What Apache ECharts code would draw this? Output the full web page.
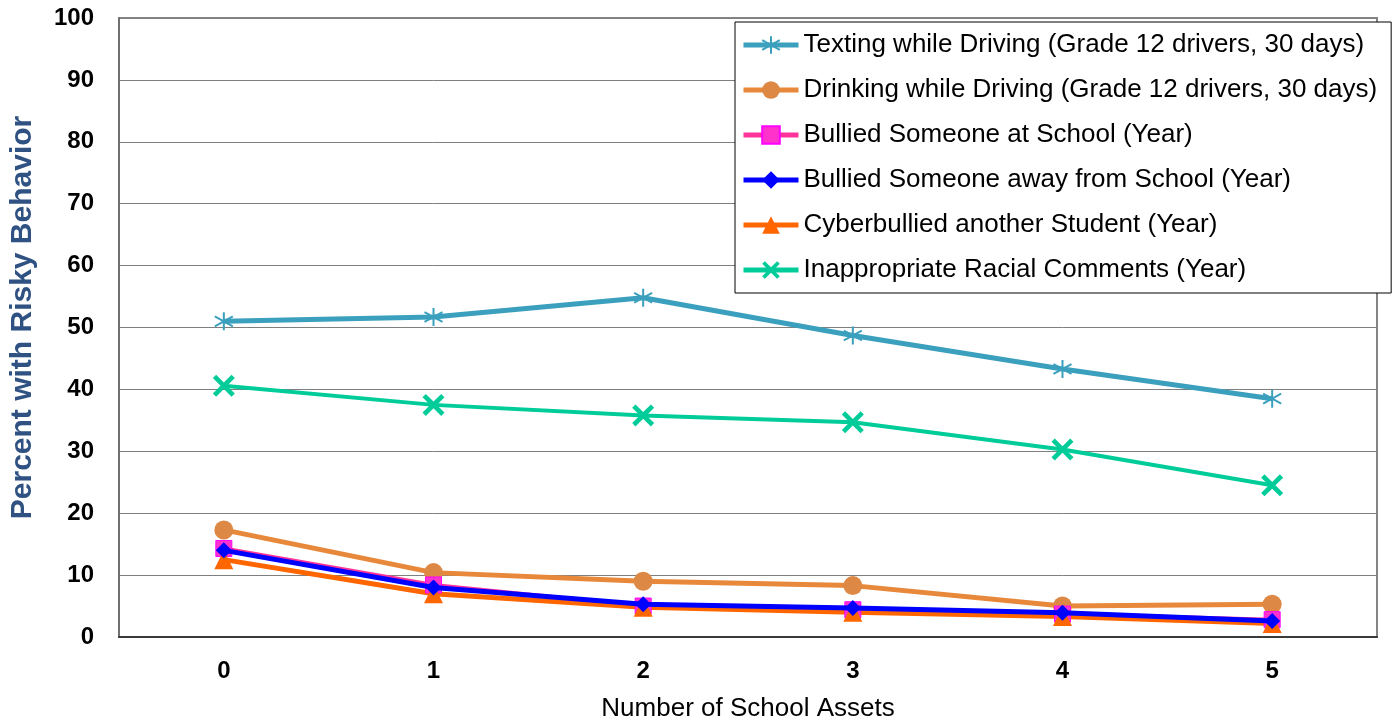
<!DOCTYPE html>
<html><head><meta charset="utf-8">
<script src="https://cdn.jsdelivr.net/npm/echarts@6/dist/echarts.min.js"></script>
<style>html,body{margin:0;padding:0;background:#fff}#c{width:1393px;height:728px}</style>
</head><body><div id="c"></div>
<script>
const categories = ['0','1','2','3','4','5'];
const texting = [51.0, 51.7, 54.8, 48.7, 43.3, 38.5];
const drinking = [17.3, 10.4, 9.0, 8.3, 5.0, 5.3];
const bulliedAt = [14.3, 8.4, 5.0, 4.4, 3.7, 2.8];
const bulliedAway = [14.0, 8.0, 5.3, 4.7, 3.9, 2.6];
const cyber = [12.5, 7.0, 4.8, 4.0, 3.3, 2.2];
const racial = [40.6, 37.5, 35.8, 34.7, 30.3, 24.5];
const names = [
  'Texting while Driving (Grade 12 drivers, 30 days)',
  'Drinking while Driving (Grade 12 drivers, 30 days)',
  'Bullied Someone at School (Year)',
  'Bullied Someone away from School (Year)',
  'Cyberbullied another Student (Year)',
  'Inappropriate Racial Comments (Year)'
];
const FONT = 'Liberation Sans, Arial, sans-serif';
const asterisk = 'path://M10,0L10,20M1,4.5L19,15.5M19,4.5L1,15.5';
const xmark = 'path://M0,3L3,0L10,7L17,0L20,3L13,10L20,17L17,20L10,13L3,20L0,17L7,10Z';

const chart = echarts.init(document.getElementById('c'));
chart.setOption({
  animation: false,
  textStyle: {fontFamily: FONT},
  grid: {left: 118, right: 16, top: 18, bottom: 91, show: true,
    borderColor: '#858585', borderWidth: 2, backgroundColor: 'transparent'},
  legend: {
    orient: 'vertical', left: 735, top: 22,
    padding: [10, 14, 10, 6],
    backgroundColor: '#fff', borderColor: '#000', borderWidth: 1,
    itemWidth: 55, itemHeight: 22, itemGap: 19,
    lineStyle: {width: 5},
    textStyle: {fontFamily: FONT, fontSize: 26, color: '#000', lineHeight: 26},
    data: names
  },
  xAxis: {
    type: 'category', data: categories, boundaryGap: true,
    name: 'Number of School Assets', nameLocation: 'middle', nameGap: 59,
    nameTextStyle: {fontSize: 26, color: '#000', fontFamily: FONT},
    axisLine: {lineStyle: {color: '#3a3a3a', width: 2}},
    axisTick: {show: false},
    axisLabel: {fontSize: 24, fontWeight: 'bold', color: '#000', margin: 22}
  },
  yAxis: {
    type: 'value', min: 0, max: 100, interval: 10,
    name: 'Percent with Risky Behavior', nameLocation: 'middle', nameGap: 81,
    nameTextStyle: {fontSize: 30, fontWeight: 'bold', color: '#2F5283', fontFamily: FONT,
      padding: [0, 0, 0, 20]},
    axisLine: {show: true, lineStyle: {color: '#707070', width: 2}},
    axisTick: {show: false},
    axisLabel: {fontSize: 24, fontWeight: 'bold', color: '#000', margin: 25},
    splitLine: {lineStyle: {color: '#7f7f7f', width: 1}}
  },
  series: [
    {name: names[0], type: 'line', data: texting, symbol: asterisk, symbolSize: 18,
      lineStyle: {color: '#3BA0BD', width: 5},
      itemStyle: {color: '#3BA0BD', borderColor: '#3BA0BD', borderWidth: 2}, z: 3},
    {name: names[1], type: 'line', data: drinking, symbol: 'circle', symbolSize: 19,
      lineStyle: {color: '#E8883A', width: 5},
      itemStyle: {color: '#DD8844'}, z: 3},
    {name: names[2], type: 'line', data: bulliedAt, symbol: 'rect', symbolSize: 16,
      lineStyle: {color: '#FF3399', width: 4},
      itemStyle: {color: '#FF33CC', borderColor: '#FF00FF', borderWidth: 1}, z: 4},
    {name: names[3], type: 'line', data: bulliedAway, symbol: 'diamond', symbolSize: 16,
      lineStyle: {color: '#0000FF', width: 5},
      itemStyle: {color: '#0000FF'}, z: 5},
    {name: names[4], type: 'line', data: cyber, symbol: 'triangle', symbolSize: 19,
      lineStyle: {color: '#FF6600', width: 5},
      itemStyle: {color: '#FF6600'}, z: 4},
    {name: names[5], type: 'line', data: racial, symbol: xmark, symbolSize: 22,
      lineStyle: {color: '#00CC99', width: 4},
      itemStyle: {color: '#00CC99'}, z: 3}
  ]
});
</script></body></html>
